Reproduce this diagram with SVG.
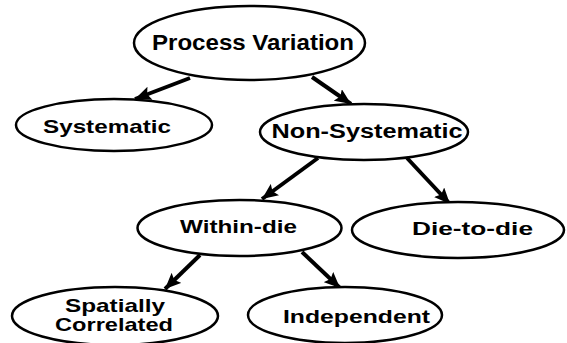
<svg xmlns="http://www.w3.org/2000/svg" width="567" height="343" viewBox="0 0 567 343">
<defs>
<marker id="ah" markerUnits="userSpaceOnUse" markerWidth="18" markerHeight="14" refX="16" refY="7" orient="auto">
<path d="M0,0 L16,7 L0,14 L3,7 Z" fill="#000"/>
</marker>
<style>
.n ellipse{fill:#fff;stroke:#000;stroke-width:2.5}
.n text{font-family:"Liberation Sans",Arial,sans-serif;font-weight:bold;font-size:19px;fill:#000;text-anchor:middle}
#edges line{stroke:#000;stroke-width:4;marker-end:url(#ah)}
</style>
</defs>
<rect width="567" height="343" fill="#fff"/>
<g id="edges">
<line x1="190" y1="78" x2="135" y2="99"/>
<line x1="312" y1="77" x2="351" y2="104"/>
<line x1="318" y1="158" x2="262" y2="199"/>
<line x1="407" y1="158" x2="450" y2="204"/>
<line x1="200" y1="255" x2="165" y2="289"/>
<line x1="302" y1="252" x2="340" y2="288"/>
</g>
<g id="pv" class="n"><ellipse cx="249.5" cy="43" rx="115.5" ry="37"/><text x="253" y="50" style="font-size:22px" textLength="202" lengthAdjust="spacingAndGlyphs">Process Variation</text></g>
<g id="sys" class="n"><ellipse cx="114" cy="125" rx="98" ry="26"/><text x="107" y="133" textLength="128" lengthAdjust="spacingAndGlyphs">Systematic</text></g>
<g id="nonsys" class="n"><ellipse cx="364" cy="132" rx="104" ry="28"/><text x="367" y="138" style="font-size:20px" textLength="191" lengthAdjust="spacingAndGlyphs">Non-Systematic</text></g>
<g id="within" class="n"><ellipse cx="239.5" cy="228" rx="102" ry="28"/><text x="238.5" y="233" textLength="117" lengthAdjust="spacingAndGlyphs">Within-die</text></g>
<g id="d2d" class="n"><ellipse cx="458" cy="230" rx="106" ry="28"/><text x="472.5" y="235" textLength="121" lengthAdjust="spacingAndGlyphs">Die-to-die</text></g>
<g id="spatial" class="n"><ellipse cx="115" cy="316" rx="103" ry="29"/><text x="115" y="312" textLength="100" lengthAdjust="spacingAndGlyphs">Spatially</text><text x="114" y="331" textLength="118" lengthAdjust="spacingAndGlyphs">Correlated</text></g>
<g id="indep" class="n"><ellipse cx="345" cy="315" rx="97" ry="28"/><text x="356.5" y="323" textLength="147" lengthAdjust="spacingAndGlyphs">Independent</text></g>
</svg>
